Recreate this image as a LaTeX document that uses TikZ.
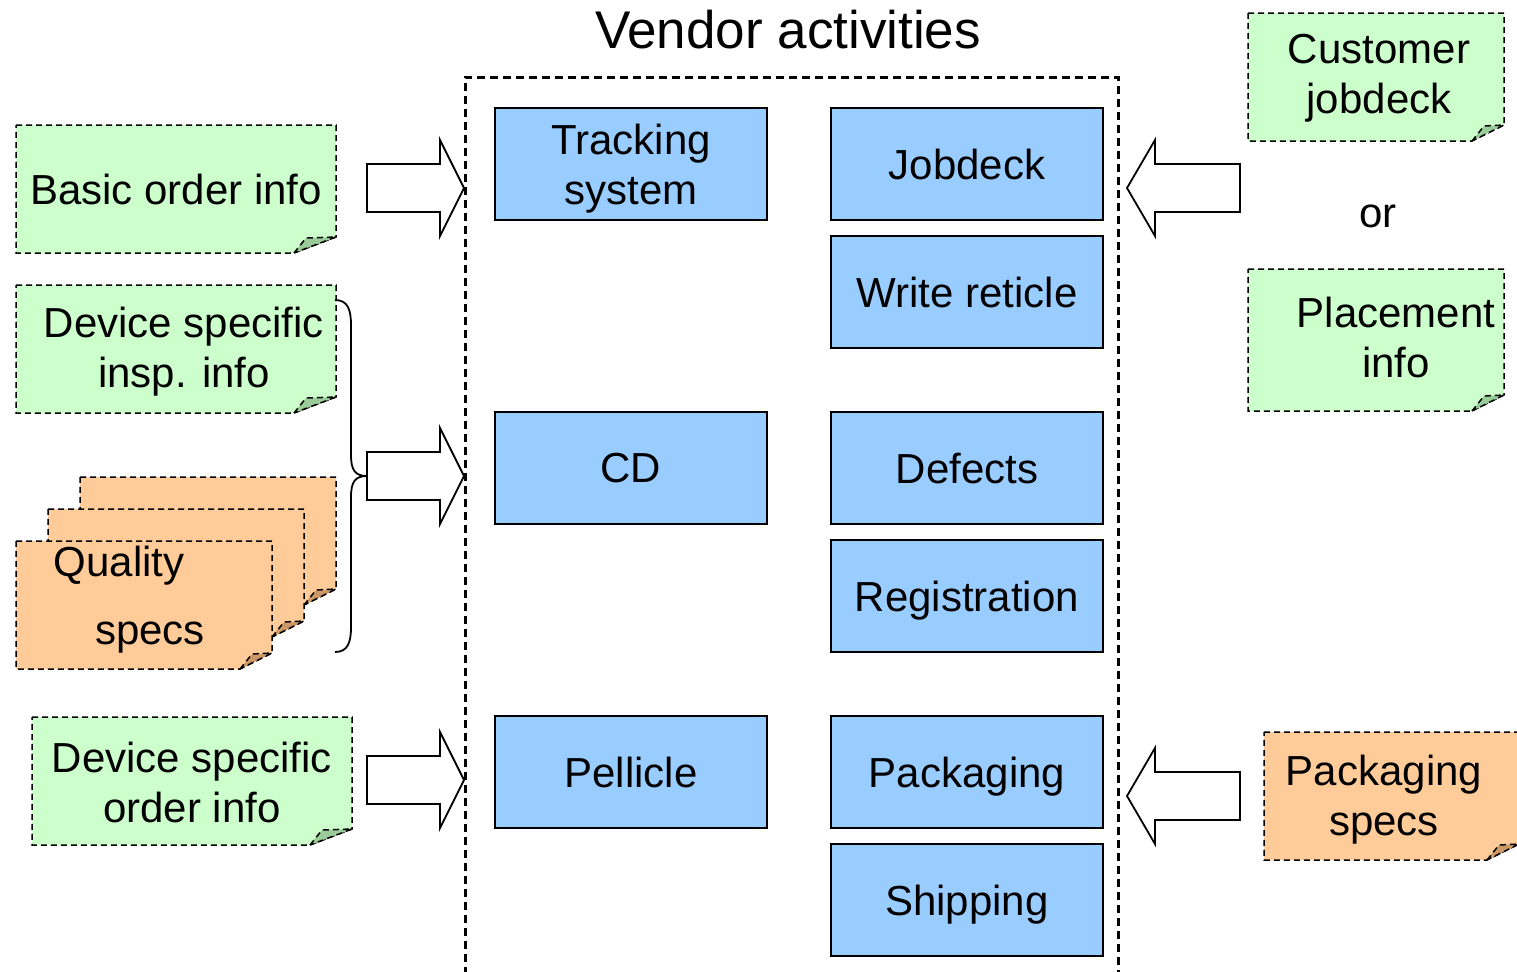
\documentclass[tikz,border=0pt]{standalone}
\usepackage{fontspec}
\setmainfont{Liberation Sans}
\usetikzlibrary{positioning}

\definecolor{boxblue}{HTML}{99CCFF}
\definecolor{notegreen}{HTML}{CCFFCC}
\definecolor{noteorange}{HTML}{FFCC99}
\definecolor{foldgreen}{HTML}{99CC99}
\definecolor{foldorange}{HTML}{CC9966}

% dog-eared sheet: corners (#1,#2)/(#3,#4), colours #5/#6, fold width #7
\newcommand{\sheet}[7]{%
  \filldraw[sheet, fill=#5] (#1,#2) -- (#3,#2) -- (#3,#4-16) -- (#3-#7,#4) -- (#1,#4) -- cycle;
  \filldraw[sheet, fill=#6] (#3-#7,#4) -- (#3-#7+12,#4-15) -- (#3,#4-16) -- cycle;}

\begin{document}
\begin{tikzpicture}[x=0.5pt, y=-0.5pt, font=\fontsize{21}{25}\selectfont,
    activity/.style={draw, line width=1pt, fill=boxblue, minimum width=136pt,
      minimum height=56pt, align=center, text depth=0pt},
    sheet/.style={line width=0.75pt, dash pattern=on 3pt off 2pt},
    bigarrow/.style={draw, line width=0.9pt, fill=white, line join=miter},
    txt/.style={align=center}]
  \useasboundingbox (0,0) rectangle (1517,971);

  \node (title) at (788,30) {\fontsize{26.5}{30}\selectfont Vendor activities};

  % vendor frame, open at the bottom
  \draw[line width=1.5pt, dash pattern=on 4pt off 2.5pt]
    (465,975) -- (465,77) -- (1118,77) -- (1118,975);

  % activities
  \node[activity] (tracking) at (631,164) {Tracking\\system};
  \node[activity] (jobdeck) at (967,164) {Jobdeck};
  \node[activity, below=7pt of jobdeck] (write) {Write reticle};
  \node[activity] (cd) at (631,468) {CD};
  \node[activity] (defects) at (967,468) {Defects};
  \node[activity, below=7pt of defects] (registration) {Registration};
  \node[activity] (pellicle) at (631,772) {Pellicle};
  \node[activity] (packaging) at (967,772) {Packaging};
  \node[activity, below=7pt of packaging] (shipping) {Shipping};

  % inputs on the left
  \sheet{16}{125}{336}{253}{notegreen}{foldgreen}{42}
  \sheet{16}{285}{336}{413}{notegreen}{foldgreen}{42}
  \sheet{80}{477}{336}{605}{noteorange}{foldorange}{32}
  \sheet{48}{509}{304}{637}{noteorange}{foldorange}{32}
  \sheet{16}{541}{272}{669}{noteorange}{foldorange}{32}
  \sheet{32}{717}{352}{845}{notegreen}{foldgreen}{42}
  \node[txt] (basic) at (176,189) {Basic order info};
  \node[txt] (insp) at (184,352) {Device specific\\insp. info};
  \node (quality) at (119,566) {Quality};
  \node (qspecs) at (150,638) {specs};
  \node[txt] (devorder) at (192,782) {Device specific\\order info};

  % inputs on the right
  \sheet{1248}{13}{1504}{141}{notegreen}{foldgreen}{32}
  \sheet{1248}{269}{1504}{411}{notegreen}{foldgreen}{32}
  \sheet{1264}{732}{1519}{860}{noteorange}{foldorange}{32}
  \node[txt] (custjob) at (1379,78) {Customer\\jobdeck};
  \node (or) at (1378,216) {or};
  \node[txt] (placement) at (1396,337) {Placement\\info};
  \node[txt] (packspec) at (1384,800) {Packaging\\specs};

  % brace around the inspection inputs
  \draw[line width=0.9pt] (335,300) .. controls (348,300) and (351,310) .. (351,325)
    -- (351,455) .. controls (351,470) and (355,476) .. (367,476)
    .. controls (355,476) and (351,482) .. (351,497)
    -- (351,627) .. controls (351,642) and (348,652) .. (335,652);

  % block arrows into the frame
  \foreach \y in {188,476,780}
    \draw[bigarrow] (367,\y-24) -- (440,\y-24) -- (440,\y-48) -- (464,\y)
      -- (440,\y+48) -- (440,\y+24) -- (367,\y+24) -- cycle;
  \foreach \y in {188,796}
    \draw[bigarrow] (1240,\y-24) -- (1155,\y-24) -- (1155,\y-48) -- (1127,\y)
      -- (1155,\y+48) -- (1155,\y+24) -- (1240,\y+24) -- cycle;
\end{tikzpicture}
\end{document}
